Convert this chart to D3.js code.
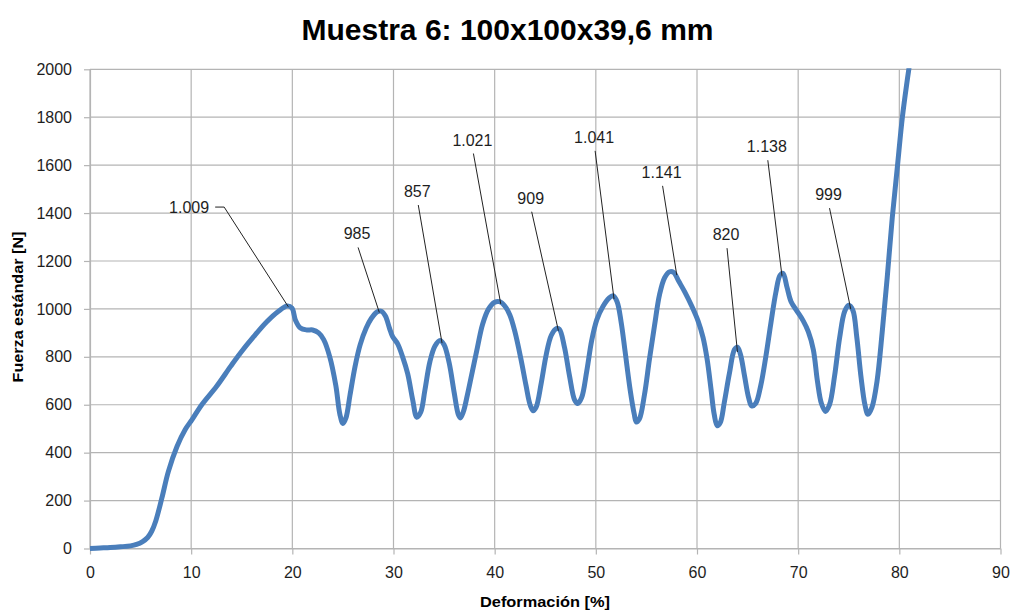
<!DOCTYPE html>
<html>
<head>
<meta charset="utf-8">
<script src="https://cdn.jsdelivr.net/npm/d3@7/dist/d3.min.js"></script>
<style>
  html, body { margin: 0; padding: 0; background: #fff; }
  svg { display: block; font-family: "Liberation Sans", Arial, sans-serif; }
</style>
</head>
<body>
<svg id="chart" width="1011" height="611"></svg>
<script>
// ---- data ----
const titleText = "Muestra 6: 100x100x39,6 mm";
const xTitle = "Deformación [%]";
const yTitle = "Fuerza estándar [N]";
const xTicks = [0, 10, 20, 30, 40, 50, 60, 70, 80, 90];
const yTicks = [0, 200, 400, 600, 800, 1000, 1200, 1400, 1600, 1800, 2000];

// deformation [%]
const deformacion = [
  0, 1, 2, 3, 4, 4.6, 5.2, 5.7, 6.1, 6.5, 7.1, 7.75, 8.6, 9.4, 10.07, 11.05, 12.5, 13.9, 14.85,
  16.2, 17.5, 18.6, 19.5, 19.97, 20.3, 20.8, 21.45, 22.0, 22.6, 23.1, 23.7, 24.3, 24.7, 25.0,
  25.3, 25.7, 26.2, 26.7, 27.3, 27.8, 28.4, 28.8, 29.2, 29.6, 29.9, 30.4, 30.9, 31.4, 31.9, 32.3,
  32.7, 33.1, 33.6, 34.1, 34.6, 35.0, 35.5, 36.0, 36.4, 36.6, 36.9, 37.3, 37.8, 38.3, 38.8, 39.4,
  40.0, 40.5, 41.0, 41.5, 42.0, 42.6, 43.1, 43.5, 43.8, 44.1, 44.6, 45.1, 45.6, 46.1, 46.4, 46.9,
  47.4, 47.9, 48.2, 48.6, 49.1, 49.6, 50.1, 50.7, 51.3, 51.7, 52.1, 52.5, 52.9, 53.4, 53.8, 54.0,
  54.3, 54.8, 55.3, 55.8, 56.3, 56.8, 57.3, 57.7, 58.2, 58.8, 59.5, 60.1, 60.6, 61.0, 61.4, 61.7,
  62.0, 62.3, 62.7, 63.2, 63.7, 64.0, 64.3, 64.7, 65.1, 65.4, 65.8, 66.3, 66.8, 67.3, 67.8, 68.2,
  68.5, 68.9, 69.3, 69.9, 70.5, 71.0, 71.5, 71.9, 72.3, 72.7, 73.1, 73.6, 74.1, 74.6, 75.0, 75.4,
  75.8, 76.2, 76.6, 76.9, 77.3, 77.8, 78.3, 78.8, 79.3, 79.8, 80.3, 80.8, 81.0, 81.3
];
// standard force [N]
const fuerza = [
  0, 2, 4, 7, 11, 17, 29, 46, 72, 115, 210, 322, 426, 496, 537, 600, 676, 760, 815,
  885, 947, 989, 1012, 1003, 954, 920, 912, 912, 900, 872, 800, 680, 560, 522,
  545, 640, 760, 850, 920, 960, 988, 990, 970, 920, 885, 855, 800, 730, 620, 548,
  570, 660, 780, 845, 868, 850, 775, 650, 560, 545, 570, 640, 740, 840, 935, 1000,
  1028, 1030, 1012, 975, 905, 790, 680, 600, 575, 590, 690, 810, 890, 918, 915, 840,
  720, 620, 605, 630, 740, 870, 955, 1010, 1045, 1055, 1030, 945, 820, 660, 560, 528,
  540, 640, 790, 930, 1060, 1130, 1155, 1152, 1115, 1070, 1010, 950, 880, 790, 660, 560,
  512, 525, 610, 730, 830, 840, 810, 720, 630, 595, 605, 680, 800, 940, 1070, 1140,
  1148, 1090, 1030, 990, 950, 905, 830, 700, 605, 572, 600, 720, 880, 990, 1015, 995,
  880, 720, 600, 560, 590, 700, 900, 1130, 1380, 1590, 1800, 1960, 2020, 2150
];

// peak annotations
const peakLabels = ["1.009", "985", "857", "1.021", "909", "1.041", "1.141", "820", "1.138", "999"];
const peakX      = [19.6, 28.6, 34.8, 40.6, 46.3, 51.8, 58.0, 64.0, 68.4, 75.2];
const peakY      = [1009, 985, 857, 1021, 909, 1041, 1141, 820, 1138, 999];
// where each label sits, in chart units
const labelX     = [9.8, 26.4, 32.35, 37.8, 43.56, 49.83, 56.5, 62.87, 66.9, 73.0];
const labelY     = [1425, 1315, 1492, 1707, 1464, 1718, 1572, 1312, 1679, 1479];

// ---- layout ----
const svg = d3.select("#chart");
const mLeft = 90, mRight = 1000.5, mTop = 69.3, mBottom = 548.5;
const gridColor = "#b4b4b4";
const textColor = "#1e1e1e";

const x = d3.scaleLinear().domain([0, 90]).range([mLeft, mRight]);
const y = d3.scaleLinear().domain([0, 2000]).range([mBottom, mTop]);

// title
svg.append("text")
  .attr("x", 507.5).attr("y", 40)
  .attr("text-anchor", "middle")
  .attr("font-size", 30).attr("font-weight", "bold")
  .attr("fill", "#000")
  .attr("textLength", 412).attr("lengthAdjust", "spacingAndGlyphs")
  .text(titleText);

// grid
const grid = svg.append("g");
grid.selectAll("line.h").data(yTicks).join("line")
  .attr("class", "h")
  .attr("x1", mLeft).attr("x2", mRight)
  .attr("y1", d => y(d)).attr("y2", d => y(d))
  .attr("stroke", gridColor).attr("stroke-width", 1.2);
grid.selectAll("line.v").data(xTicks).join("line")
  .attr("class", "v")
  .attr("y1", mTop).attr("y2", mBottom)
  .attr("x1", d => x(d)).attr("x2", d => x(d))
  .attr("stroke", gridColor).attr("stroke-width", 1.2);

// axes
const yAxis = svg.append("g").attr("transform", `translate(${mLeft},0)`)
  .call(d3.axisLeft(y).tickValues(yTicks).tickSize(6).tickSizeOuter(0).tickPadding(12).tickFormat(d3.format("d")));
const xAxis = svg.append("g").attr("transform", `translate(0,${mBottom})`)
  .call(d3.axisBottom(x).tickValues(xTicks).tickSize(6).tickSizeOuter(0).tickPadding(12).tickFormat(d3.format("d")));
[yAxis, xAxis].forEach(a => {
  a.select(".domain").attr("stroke", gridColor).attr("stroke-width", 1.2);
  a.selectAll(".tick line").attr("stroke", gridColor).attr("stroke-width", 1.2);
  a.selectAll(".tick text").attr("fill", textColor)
    .attr("font-size", 16).attr("font-family", "\"Liberation Sans\", Arial, sans-serif");
});

// axis titles
svg.append("text")
  .attr("transform", "translate(23,307) rotate(-90)")
  .attr("text-anchor", "middle")
  .attr("font-size", 15).attr("font-weight", "bold").attr("fill", "#000")
  .attr("textLength", 151).attr("lengthAdjust", "spacingAndGlyphs")
  .text(yTitle);
svg.append("text")
  .attr("x", 545).attr("y", 607)
  .attr("text-anchor", "middle")
  .attr("font-size", 15).attr("font-weight", "bold").attr("fill", "#000")
  .attr("textLength", 130).attr("lengthAdjust", "spacingAndGlyphs")
  .text(xTitle);

// clip
svg.append("clipPath").attr("id", "plotClip")
  .append("rect").attr("x", mLeft).attr("y", mTop - 1)
  .attr("width", mRight - mLeft + 2).attr("height", mBottom - mTop + 6);

// series line
const pts = deformacion.map((d, i) => [d, fuerza[i]]);
const line = d3.line().x(d => x(d[0])).y(d => y(d[1])).curve(d3.curveCatmullRom.alpha(0.5));
svg.append("path")
  .datum(pts)
  .attr("clip-path", "url(#plotClip)")
  .attr("fill", "none")
  .attr("stroke", "#4a7ebb")
  .attr("stroke-width", 5)
  .attr("stroke-linejoin", "round")
  .attr("stroke-linecap", "round")
  .attr("d", line);

// leader lines + labels
const ann = svg.append("g");
peakLabels.forEach((lab, i) => {
  const lx = x(labelX[i]), ly = y(labelY[i]);
  const px = x(peakX[i]), py = y(peakY[i]);
  const t = ann.append("text")
    .attr("x", lx).attr("y", ly + 6)
    .attr("text-anchor", "middle")
    .attr("font-size", 16).attr("fill", textColor)
    .text(lab);
  if (i === 0) {
    const w = t.node().getComputedTextLength();
    const sx = lx + w / 2 + 6;
    ann.append("polyline")
      .attr("points", `${sx},${ly} ${sx + 9},${ly} ${px},${py}`)
      .attr("fill", "none").attr("stroke", "#222").attr("stroke-width", 1);
  } else {
    ann.append("line")
      .attr("x1", lx + 1).attr("y1", ly + 14)
      .attr("x2", px).attr("y2", py)
      .attr("stroke", "#222").attr("stroke-width", 1);
  }
});
</script>
</body>
</html>
